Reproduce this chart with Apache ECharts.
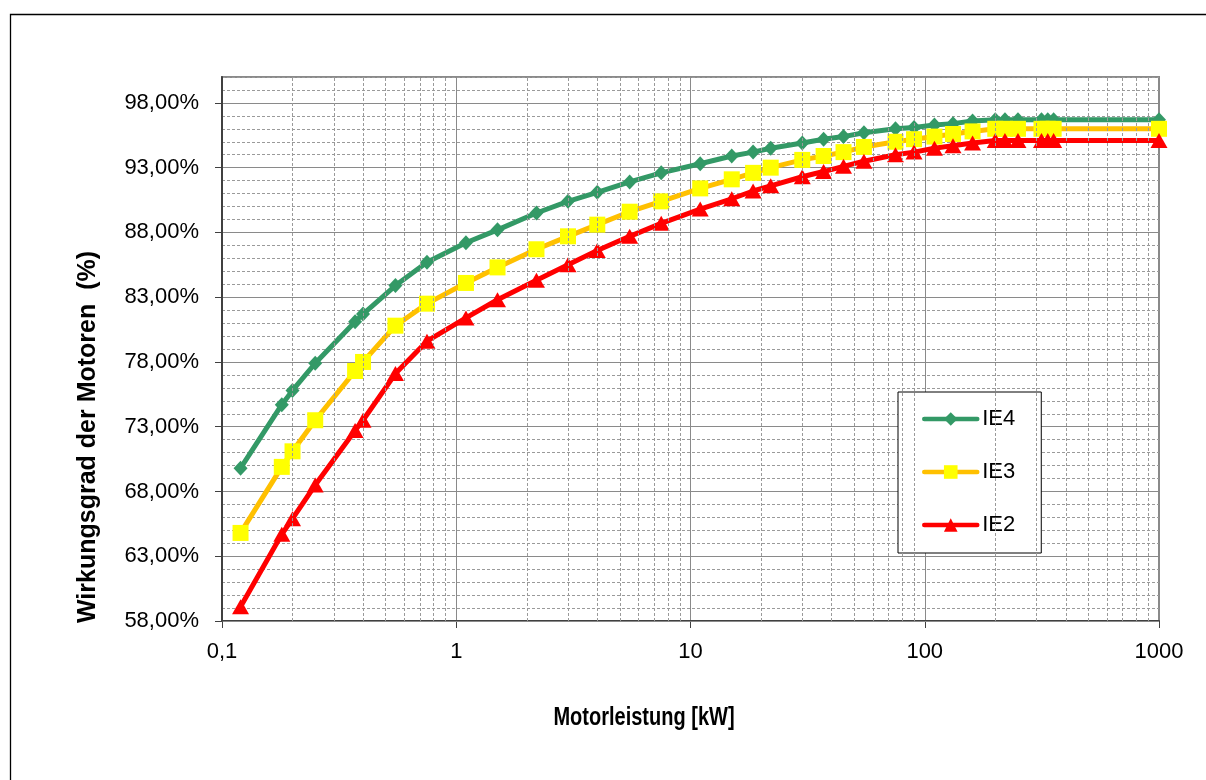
<!DOCTYPE html>
<html>
<head>
<meta charset="utf-8">
<script src="https://cdn.jsdelivr.net/npm/echarts@6/dist/echarts.min.js"></script>
<style>
html,body{margin:0;padding:0;background:#fff;}
#chart{width:1206px;height:780px;}
</style>
</head>
<body>
<div id="chart"></div>
<script>
// Motor power (kW)
const powerKW = [0.12, 0.18, 0.2, 0.25, 0.37, 0.4, 0.55, 0.75, 1.1, 1.5, 2.2, 3, 4, 5.5, 7.5, 11, 15, 18.5, 22, 30, 37, 45, 55, 75, 90, 110, 132, 160, 200, 220, 250, 315, 335, 355, 1000];
// Efficiency (%)
const ie4 = [69.8, 74.7, 75.8, 77.9, 81.1, 81.7, 83.9, 85.7, 87.2, 88.2, 89.5, 90.4, 91.1, 91.9, 92.6, 93.3, 93.9, 94.2, 94.5, 94.9, 95.2, 95.4, 95.7, 96.0, 96.1, 96.3, 96.4, 96.6, 96.7, 96.7, 96.7, 96.7, 96.7, 96.7, 96.7];
const ie3 = [64.8, 69.9, 71.1, 73.5, 77.3, 78.0, 80.8, 82.5, 84.1, 85.3, 86.7, 87.7, 88.6, 89.6, 90.4, 91.4, 92.1, 92.6, 93.0, 93.6, 93.9, 94.2, 94.6, 95.0, 95.2, 95.4, 95.6, 95.8, 96.0, 96.0, 96.0, 96.0, 96.0, 96.0, 96.0];
const ie2 = [59.1, 64.7, 65.9, 68.5, 72.7, 73.5, 77.1, 79.6, 81.4, 82.8, 84.3, 85.5, 86.6, 87.7, 88.7, 89.8, 90.6, 91.2, 91.6, 92.3, 92.7, 93.1, 93.5, 94.0, 94.2, 94.5, 94.7, 94.9, 95.1, 95.1, 95.1, 95.1, 95.1, 95.1, 95.1];
const seriesNames = ['IE4', 'IE3', 'IE2'];
// Tick values
const yTicks = [58, 63, 68, 73, 78, 83, 88, 93, 98];
const xTicks = [0.1, 1, 10, 100, 1000];
const xMinorGrid = [0.2, 0.3, 0.4, 0.5, 0.6, 0.7, 0.8, 0.9, 2, 3, 4, 5, 6, 7, 8, 9, 20, 30, 40, 50, 60, 70, 80, 90, 200, 300, 400, 500, 600, 700, 800, 900];

const FONT = '"Liberation Sans", Arial, sans-serif';
const zip = (xs, ys) => xs.map((x, i) => [x, ys[i]]);

const chart = echarts.init(document.getElementById('chart'), null, {renderer: 'canvas'});
chart.setOption({
  animation: false,
  backgroundColor: '#ffffff',
  textStyle: {fontFamily: FONT},
  grid: {left: 222, right: 47, top: 77, bottom: 159, show: true, borderColor: '#8a8a8a', borderWidth: 2, backgroundColor: 'transparent'},
  graphic: [
    {type: 'rect', shape: {x: 10.5, y: 14.5, width: 1400, height: 1000}, style: {fill: 'none', stroke: '#000', lineWidth: 1.3}, silent: true, z: 100},
    {type: 'text', x: 88, y: 437, rotation: Math.PI / 2, style: {text: 'Wirkungsgrad der Motoren  (%)', font: 'bold 25px ' + FONT, fill: '#000', align: 'center', verticalAlign: 'middle'}, z: 100},
    {type: 'text', x: 644, y: 718, scaleX: 0.8, style: {text: 'Motorleistung [kW]', font: 'bold 25px ' + FONT, fill: '#000', align: 'center', verticalAlign: 'middle'}, z: 100}
  ],
  legend: {
    data: seriesNames,
    orient: 'vertical',
    left: 898, top: 392,
    padding: [16, 26, 17, 24],
    itemGap: 31,
    itemWidth: 53, itemHeight: 17,
    lineStyle: {width: 4.5, cap: 'round'},
    backgroundColor: '#fff', borderColor: '#000', borderWidth: 1,
    textStyle: {fontSize: 22, fontFamily: FONT, color: '#000'}
  },
  xAxis: {
    type: 'log', logBase: 10, min: 0.1, max: 1000,
    axisLine: {show: true, onZero: false, lineStyle: {color: '#404040', width: 2}},
    axisTick: {show: true, length: 7, lineStyle: {color: '#404040', width: 1}},
    axisLabel: {fontSize: 22, color: '#000', margin: 20, fontFamily: FONT,
      formatter: v => (v < 1 ? String(v).replace('.', ',') : String(Math.round(v)))},
    splitLine: {show: true, lineStyle: {color: '#8a8a8a', width: 1}}
  },
  yAxis: [
    {
      type: 'value', min: 58, max: 100, interval: 5, z: 2,
      axisLine: {show: true, lineStyle: {color: '#404040', width: 2}},
      axisTick: {show: true, length: 7, customValues: yTicks, lineStyle: {color: '#404040', width: 1}},
      axisLabel: {fontSize: 22, color: '#000', margin: 23, fontFamily: FONT, customValues: yTicks,
        formatter: v => v.toFixed(2).replace('.', ',') + '%'},
      splitLine: {show: true, lineStyle: {color: '#8a8a8a', width: 1}}
    },
    {
      type: 'value', min: 58, max: 100, interval: 1, z: 0,
      axisLine: {show: false}, axisTick: {show: false}, axisLabel: {show: false},
      splitLine: {show: true, lineStyle: {color: '#9a9a9a', width: 1, type: [3, 2]}}
    }
  ],
  series: [
    {
      name: 'minor', type: 'line', data: [], z: 1, silent: true,
      markLine: {silent: true, symbol: 'none', label: {show: false},
        lineStyle: {color: '#9a9a9a', width: 1, type: [3, 2]},
        emphasis: {disabled: true},
        data: xMinorGrid.map(v => ({xAxis: v}))}
    },
    {
      name: 'IE4', type: 'line', data: zip(powerKW, ie4),
      symbol: 'diamond', symbolSize: [14, 15],
      lineStyle: {color: '#339966', width: 5}, itemStyle: {color: '#339966'}
    },
    {
      name: 'IE3', type: 'line', data: zip(powerKW, ie3),
      symbol: 'rect', symbolSize: 16,
      lineStyle: {color: '#FFC000', width: 5}, itemStyle: {color: '#FFFF00'}
    },
    {
      name: 'IE2', type: 'line', data: zip(powerKW, ie2),
      symbol: 'triangle', symbolSize: [17, 15],
      lineStyle: {color: '#FF0000', width: 5}, itemStyle: {color: '#FF0000'}
    }
  ]
});
</script>
</body>
</html>
